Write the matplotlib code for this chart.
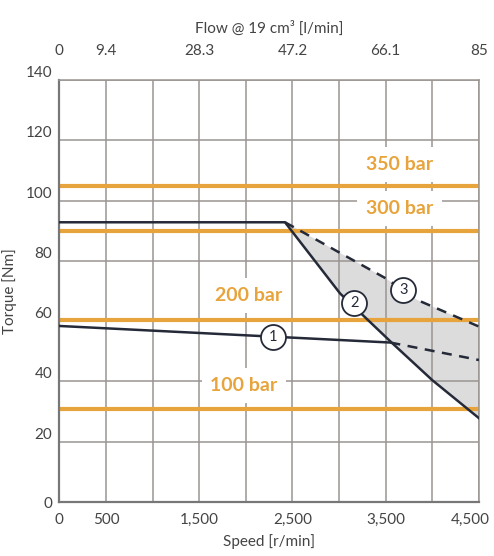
import matplotlib
matplotlib.use("Agg")
import matplotlib.pyplot as plt
from matplotlib.transforms import ScaledTranslation

plt.rcParams['font.family'] = ['Lato', 'DejaVu Sans']

# axis ticks
speed_ticks = [0, 500, 1000, 1500, 2000, 2500, 3000, 3500, 4000, 4500]
speed_labels = ['0', '500', '', '1,500', '', '2,500', '', '3,500', '', '4,500']
flow_ticks = [0, 500, 1500, 2500, 3500, 4500]
flow_labels = ['0', '9.4', '28.3', '47.2', '66.1', '85']
torque_ticks = [0, 20, 40, 60, 80, 100, 120, 140]

# pressure limits (torque at 19 cm3)
pressure_names = ['350 bar', '300 bar', '200 bar', '100 bar']
pressure_torque = [105, 90, 60.5, 30.8]
label_x = [3650, 3650, 2030, 1980]
label_y = [112, 97.4, 68.5, 38.7]

# curve 1 (continuous)
c1_speed = [0, 3550]
c1_torque = [58.4, 52.9]
c1_ext_speed = [3550, 4500]
c1_ext_torque = [52.9, 47.1]
# curve 2 (max torque)
c2_speed = [0, 2420, 3010, 3566, 4000, 4500]
c2_torque = [92.8, 92.8, 69.2, 52.8, 40.4, 27.8]
# curve 3 (dashed)
c3_speed = [2420, 3500, 3840, 4500]
c3_torque = [92.8, 74.2, 67.0, 58.2]

# circled numbers
marker_speed = [2286, 3162, 3688]
marker_torque = [54.6, 65.9, 70.3]
marker_text = ['1', '2', '3']

orange = '#e8a43c'
dark = '#252a38'
grid_c = '#9a9592'

fig = plt.figure(figsize=(4.94, 5.56), dpi=100)
ax = fig.add_axes([59.3 / 494, 54 / 556, (479 - 59.3) / 494, (502 - 80) / 556])
ax.set_xlim(0, 4500)
ax.set_ylim(0, 140)
ax.set_axisbelow(True)

ax.set_xticks(speed_ticks)
ax.set_xticklabels(speed_labels)
ax.set_yticks(torque_ticks)
ax.set_yticklabels([str(t) for t in torque_ticks])
ax.tick_params(length=0, labelsize=11, labelcolor='#444444')
ax.tick_params(axis='x', pad=8)
ax.tick_params(axis='y', pad=5)
for lbl in ax.get_yticklabels()[1:]:
    lbl.set_va('bottom')
# keep last speed label inside the picture
last = ax.get_xticklabels()[-1]
last.set_transform(last.get_transform() + ScaledTranslation(-6 / 72, 0, fig.dpi_scale_trans))
ax.grid(True, color=grid_c, linewidth=1.1)

for s in ['left', 'bottom']:
    ax.spines[s].set_color('#777777')
    ax.spines[s].set_linewidth(1.6)
for s in ['top', 'right']:
    ax.spines[s].set_color(grid_c)
    ax.spines[s].set_linewidth(1.1)

# shaded area between curve 3 and curve 2
ax.fill(c3_speed + c2_speed[::-1][:-1], c3_torque + c2_torque[::-1][:-1],
        color='#dcdcdc', zorder=0.2, linewidth=0)

for name, t, x, y in zip(pressure_names, pressure_torque, label_x, label_y):
    ax.axhline(t, color=orange, linewidth=3, zorder=2)
    ax.text(x, y, name, color=orange, fontsize=14, fontweight='bold',
            ha='center', va='center', zorder=3,
            bbox=dict(boxstyle='square,pad=0.45', fc='white', ec='none'))

ax.plot(c1_speed, c1_torque, color=dark, linewidth=1.8, zorder=4)
ax.plot(c1_ext_speed, c1_ext_torque, color=dark, linewidth=1.8,
        linestyle=(0, (4, 3)), zorder=4)
ax.plot(c2_speed, c2_torque, color=dark, linewidth=1.8, zorder=4)
ax.plot(c3_speed, c3_torque, color=dark, linewidth=1.8,
        linestyle=(0, (4, 3)), zorder=4)

ax.plot(marker_speed, marker_torque, 'o', ms=18, mfc='white', mec=dark,
        mew=1.3, zorder=5, linestyle='none')
for x, y, t in zip(marker_speed, marker_torque, marker_text):
    ax.text(x, y, t, fontsize=10.5, color=dark, ha='center', va='center', zorder=6)

ax.set_xlabel('Speed [r/min]', fontsize=11, color='#444444', labelpad=5)
ax.set_ylabel('Torque [Nm]', fontsize=11, color='#444444', labelpad=6)

ax2 = ax.twiny()
ax2.set_xlim(0, 4500)
ax2.set_xticks(flow_ticks)
ax2.set_xticklabels(flow_labels)
ax2.tick_params(length=0, labelsize=11, labelcolor='#444444', pad=16)
ax2.set_xlabel('Flow @ 19 cm³ [l/min]', fontsize=11, color='#444444', labelpad=8)
for s in ax2.spines.values():
    s.set_visible(False)

fig.savefig('out.png', dpi=100)
